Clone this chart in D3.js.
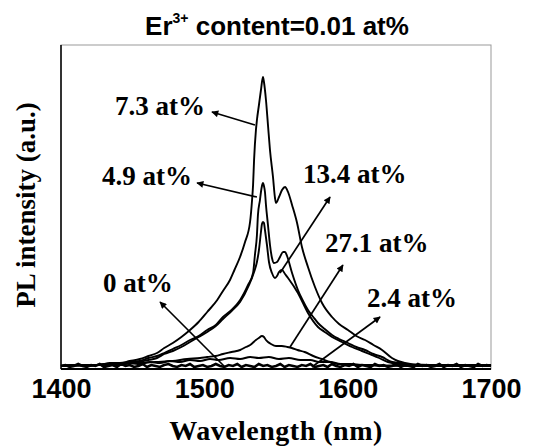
<!DOCTYPE html>
<html>
<head>
<meta charset="utf-8">
<script src="https://cdnjs.cloudflare.com/ajax/libs/d3/7.8.5/d3.min.js"></script>
<style>
  html, body { margin: 0; padding: 0; background: #fff; }
  svg { display: block; }
</style>
</head>
<body>
<script>
// ---- data (wavelength nm, PL intensity a.u.) ----
const xTicks = [1400, 1500, 1600, 1700];

const s0 = [ // 0 at%
  [1400,3],[1403,4],[1406,2],[1409,3],[1412,5],[1415,3],[1418,2],[1421,4],[1424,3],[1427,5],
  [1430,2],[1433,3],[1436,4],[1439,2],[1442,5],[1445,3],[1448,4],[1451,2],[1454,3],[1457,5],
  [1460,2],[1463,4],[1466,3],[1469,2],[1472,4],[1475,5],[1478,3],[1481,2],[1484,4],[1487,3],
  [1490,5],[1493,2],[1496,3],[1499,4],[1502,2],[1505,3],[1508,5],[1511,3],[1514,2],[1517,4],
  [1520,3],[1523,5],[1526,2],[1529,4],[1532,3],[1535,2],[1538,5],[1541,3],[1544,4],[1547,2],
  [1550,3],[1553,5],[1556,2],[1559,4],[1562,3],[1565,2],[1568,4],[1571,3],[1574,5],[1577,2],
  [1580,3],[1583,4],[1586,2],[1589,5],[1592,3],[1595,2],[1598,4],[1601,3],[1604,5],[1607,2],
  [1610,4],[1613,3],[1616,2],[1619,5],[1622,3],[1625,4],[1628,2],[1631,3],[1634,5],[1637,2],
  [1640,4],[1643,3],[1646,2],[1649,5],[1652,3],[1655,4],[1658,2],[1661,3],[1664,5],[1667,2],
  [1670,4],[1673,3],[1676,5],[1679,2],[1682,4],[1685,3],[1688,2],[1691,5],[1694,3],[1697,4],
  [1700,3]
];
const s24 = [ // 2.4 at%
  [1400,3],[1410,4],[1420,3],[1430,5],[1441,4],[1448,6],[1455,5],[1462,7],[1469,6],[1476,8],
  [1483,7],[1490,9],[1497,8],[1504,10],[1510,9],[1518,11],[1525,10],[1532,12],[1538,11],
  [1545,12],[1552,10],[1559,11],[1567,9],[1574,9],[1580,7],[1588,7],[1595,5],[1602,5],
  [1608,4],[1616,4],[1625,3],[1640,4],[1650,3],[1670,3],[1700,3]
];
const s49 = [ // 4.9 at%
  [1400,3],[1413,4],[1427,4],[1441,5],[1448,7],[1455,8],[1461,11],[1467,13],[1472,16],[1478,20],
  [1484,24],[1490,29],[1496,33],[1502,39],[1508,44],[1513,52],[1519,59],[1525,69],[1530.5,84],
  [1534,96],[1535.3,114],[1536.7,134],[1537.4,154],[1538.8,169],[1539.5,177],[1540.2,183],
  [1540.9,186],[1541.6,183],[1542.3,177],[1543,164],[1544.4,144],[1545.8,124],[1547.2,111],
  [1548.6,106],[1550.7,107],[1552.8,112],[1554.9,117],[1556.3,117],[1557.7,113],[1561.2,96],
  [1565.3,79],[1568.5,69],[1572.3,59],[1576,52],[1579.3,46],[1584,40],[1589.1,34],[1594,30],
  [1600.2,26],[1606,22],[1612.1,19],[1618,15],[1624,12],[1631,7],[1637,6],[1643.5,4],
  [1664.4,4],[1700,3]
];
const s73 = [ // 7.3 at%
  [1400,3],[1413,4],[1427,4],[1434,6],[1441,6],[1448,8],[1455,10],[1461,13],[1467,16],[1472,21],
  [1478,26],[1484,32],[1490,39],[1496,47],[1502,57],[1509,69],[1513,78],[1517.9,89],[1521,99],
  [1524.9,112],[1528.4,127],[1531.9,147],[1533.3,169],[1534,184],[1534.7,209],[1536,239],
  [1536.7,249],[1538.1,264],[1539.5,279],[1540.9,292],[1541.6,287],[1543,269],[1544.4,244],
  [1545.8,219],[1547.9,192],[1549.3,171],[1550,166],[1552.1,172],[1554.2,179],[1556.3,182],
  [1558.4,177],[1561.2,164],[1564.7,146],[1568.1,122],[1572.3,102],[1577.2,82],[1582.1,66],
  [1589.1,52],[1594,45],[1600.2,39],[1606,33],[1612.1,29],[1618,24],[1624,19],[1630.9,11],
  [1635,8],[1640,6],[1650.5,4],[1671,4],[1700,4]
];
const s134 = [ // 13.4 at%
  [1400,3],[1420,4],[1441,4],[1448,6],[1455,7],[1461,9],[1467,11],[1472,15],[1478,18],
  [1484,22],[1490,27],[1496,32],[1502,37],[1508,43],[1513,50],[1519,58],[1524.9,67],
  [1531.2,84],[1534.7,97],[1536.7,107],[1538.1,119],[1539.5,137],[1540.2,145],[1540.9,147],
  [1541.6,146],[1542.3,139],[1543.7,124],[1545.1,107],[1547.2,96],[1549.3,91],[1550.7,93],
  [1552.1,97],[1554.2,99],[1556.3,95],[1558.4,91],[1565.3,76],[1572.3,56],[1579.3,42],
  [1584,37],[1589.1,32],[1596,27],[1603,22],[1610,18],[1617,14],[1622,11],[1628.1,7],
  [1636.5,5],[1657.4,4],[1700,3]
];
const s271 = [ // 27.1 at%
  [1400,3],[1427,4],[1441,5],[1455,6],[1466,7],[1478,8],[1488,10],[1497,11],[1502,12],
  [1508,13],[1513,15],[1519,17],[1525,19],[1529,22],[1532,24],[1536,29],[1538,31],
  [1540.2,33],[1541.6,32],[1543,29],[1544.4,27],[1546.5,25],[1550,23],[1554,23],[1558,22],
  [1561,21],[1565,19],[1570,17],[1576,13],[1582,10],[1588,7],[1593,5],[1612,4],[1650,3],
  [1700,3]
];
const seriesList = [s24, s271, s134, s49, s73];

// annotation labels: text, label anchor (wl, I), arrow tail (wl, I), arrow tip (wl, I)
const labelTexts = ["7.3 at%", "4.9 at%", "13.4 at%", "27.1 at%", "2.4 at%", "0 at%"];
const labelPos  = [[1437.7,254],[1428.6,184],[1568.8,186],[1584.2,117],[1613.5,62],[1429.3,77]];
const arrowTail = [[1535.3,244],[1536.7,172],[1552.8,96],[1559.8,22],[1575.1,2],[1514.4,2]];
const arrowTip  = [[1505.3,257],[1494.9,186],[1587.7,172],[1596.7,104],[1622.6,52],[1469.1,67]];

// ---- drawing ----
const W = 537, H = 447;
const L = 61, R = 491, T = 45, B = 369;
const svg = d3.select("body").append("svg").attr("width", W).attr("height", H);

const x = d3.scaleLinear().domain([1400, 1700]).range([L, R]);
const y = d3.scaleLinear().domain([0, 324]).range([B, T]);

svg.append("defs").append("marker")
  .attr("id", "ah").attr("viewBox", "0 0 10 10").attr("refX", 9).attr("refY", 5)
  .attr("markerWidth", 10).attr("markerHeight", 7).attr("markerUnits", "userSpaceOnUse")
  .attr("orient", "auto")
  .append("path").attr("d", "M0,0 L10,5 L0,10 Z").attr("fill", "#000");

// frame
svg.append("rect").attr("x", L).attr("y", T).attr("width", R - L).attr("height", B - T)
  .attr("fill", "none").attr("stroke", "#999").attr("stroke-width", 1);
svg.append("line").attr("x1", L).attr("x2", L).attr("y1", T).attr("y2", B)
  .attr("stroke", "#000").attr("stroke-width", 1.5);

const smooth = d3.line().x(d => x(d[0])).y(d => y(d[1])).curve(d3.curveMonotoneX);
const jag = d3.line().x(d => x(d[0])).y(d => y(d[1]));
svg.append("path").datum(s0).attr("d", jag).attr("fill", "none")
  .attr("stroke", "#000").attr("stroke-width", 2.6);
svg.append("g").selectAll("path").data(seriesList).join("path")
  .attr("d", smooth).attr("fill", "none").attr("stroke", "#000")
  .attr("stroke-width", 1.9).attr("stroke-linejoin", "round");

svg.append("line").attr("x1", L).attr("x2", R).attr("y1", B).attr("y2", B)
  .attr("stroke", "#000").attr("stroke-width", 2);

// x axis
const xAxis = d3.axisBottom(x).tickValues(xTicks).tickSize(0).tickPadding(0).tickFormat(d3.format("d"));
const gx = svg.append("g").attr("transform", `translate(0,${B})`).call(xAxis);
gx.select(".domain").remove();
gx.selectAll("text").attr("dy", null).attr("y", 29)
  .attr("font-family", "Liberation Sans, Arial, sans-serif").attr("font-weight", "bold")
  .attr("font-size", 27).attr("fill", "#000");

// axis titles
svg.append("text").attr("x", 276).attr("y", 440).attr("text-anchor", "middle")
  .attr("font-family", "Liberation Serif, Times New Roman, serif").attr("font-weight", "bold")
  .attr("font-size", 28).attr("letter-spacing", 0.5).text("Wavelength (nm)");
svg.append("text").attr("transform", "translate(35,205) rotate(-90)").attr("text-anchor", "middle")
  .attr("font-family", "Liberation Serif, Times New Roman, serif").attr("font-weight", "bold")
  .attr("font-size", 27).text("PL intensity (a.u.)");

// title
const title = svg.append("text").attr("x", 277).attr("y", 35).attr("text-anchor", "middle")
  .attr("font-family", "Liberation Sans, Arial, sans-serif").attr("font-weight", "bold")
  .attr("font-size", 26);
title.append("tspan").text("Er");
title.append("tspan").attr("font-size", 14).attr("dy", -12).text("3+");
title.append("tspan").attr("dy", 12).text(" content=0.01 at%");

// annotations
const ann = svg.append("g");
ann.selectAll("line").data(arrowTail).join("line")
  .attr("x1", d => x(d[0])).attr("y1", d => y(d[1]))
  .attr("x2", (d, i) => x(arrowTip[i][0])).attr("y2", (d, i) => y(arrowTip[i][1]))
  .attr("stroke", "#000").attr("stroke-width", 1.7).attr("marker-end", "url(#ah)");
ann.selectAll("text").data(labelTexts).join("text")
  .attr("x", (d, i) => x(labelPos[i][0])).attr("y", (d, i) => y(labelPos[i][1]))
  .attr("font-family", "Liberation Serif, Times New Roman, serif").attr("font-weight", "bold")
  .attr("font-size", 27).attr("fill", "#000").text(d => d);
</script>
</body>
</html>
